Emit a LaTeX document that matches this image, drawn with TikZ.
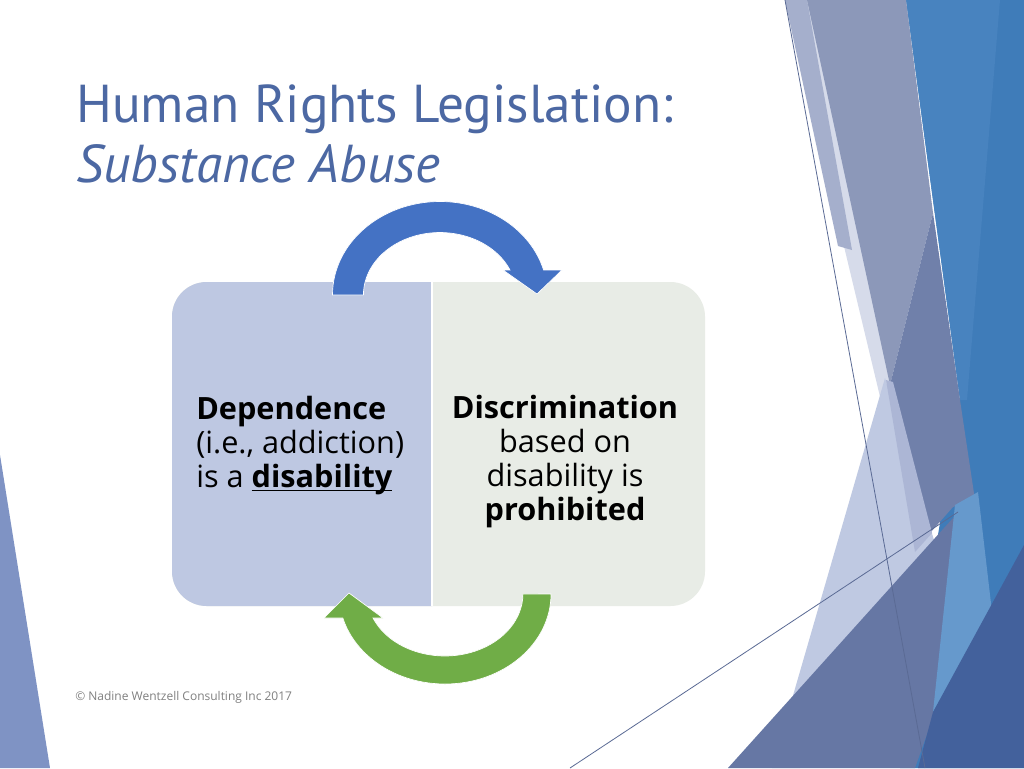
\documentclass[tikz,border=0pt]{standalone}
\usepackage{fontspec}
\setmainfont{Open Sans}
\newfontfamily\titlefont{PT Sans}
\usetikzlibrary{positioning}
\newcommand{\ulword}[1]{\setbox0\hbox{#1}\rlap{\rule[-2.6pt]{\wd0}{1.3pt}}#1}
\definecolor{titleblue}{RGB}{76,104,163}
\definecolor{panelblue}{RGB}{190,200,226}
\definecolor{panelgrey}{RGB}{232,236,230}
\definecolor{arrowblue}{RGB}{68,114,196}
\definecolor{arrowgreen}{RGB}{112,173,71}
\definecolor{footgrey}{RGB}{128,128,128}
\definecolor{fBlue}{RGB}{63,124,185}
\definecolor{fBlueLight}{RGB}{72,131,191}
\definecolor{fGray}{RGB}{140,152,185}
\definecolor{fLav}{RGB}{165,175,204}
\definecolor{fPale}{RGB}{214,219,234}
\definecolor{fPaleBlue}{RGB}{191,201,226}
\definecolor{fMidPale}{RGB}{172,182,213}
\definecolor{fSlate}{RGB}{112,128,170}
\definecolor{fDarkSlate}{RGB}{102,119,164}
\definecolor{fSky}{RGB}{102,153,204}
\definecolor{fDeep}{RGB}{67,97,156}
\definecolor{fLeft}{RGB}{127,147,196}
\definecolor{fLine}{RGB}{90,106,148}
\tikzset{
    facet/.style = {draw=none},
    facetline/.style = {draw=fLine, line width=0.6pt},
    titletext/.style = {font=\titlefont\fontsize{40}{48}\selectfont, text=titleblue, inner sep=0pt, anchor=base west},
    boxtext/.style = {font=\fontsize{23}{25.5}\selectfont, inner sep=0pt},
    foottext/.style = {font=\fontsize{9}{11}\selectfont, text=footgrey, inner sep=0pt, anchor=west},
    cyclearrow/.style = {draw=white, line width=0.5pt}}

\begin{document}
\begin{tikzpicture}[x=0.75pt, y=-0.75pt]
    \useasboundingbox[fill=white] (0,0) rectangle (1024,768);
    \fill[facet, fBlue] (906,0) -- (1024,0) -- (1024,768) -- (900,768) -- (960,400) -- cycle;
    \fill[facet, fBlueLight] (906,0) -- (1000,0) -- (967,400) -- (960,400) -- cycle;
    \fill[facet, fPale] (785,0) -- (810,0) -- (895,390) -- (882,405) -- cycle;
    \fill[facet, fLav] (785,0) -- (807,0) -- (852,250) -- (838,246) -- cycle;
    \fill[facet, fGray] (807,0) -- (906,0) -- (933,213) -- (890,385) -- cycle;
    \fill[facet, fSlate] (933,213) -- (960,400) -- (975,500) -- (953,507) -- (930,533) -- (890,385) -- cycle;
    \fill[facet, fPaleBlue] (885,378) -- (940,560) -- (800,768) -- (772,768) -- cycle;
    \fill[facet, fMidPale] (886,380) -- (893,382) -- (932,533) -- (915,552) -- cycle;
    \fill[facet, fDarkSlate] (728,768) -- (962,508) -- (935,712) -- (915,768) -- cycle;
    \fill[facet, fSky] (955,505) -- (978,492) -- (992,612) -- (933,712) -- cycle;
    \fill[facet, fDeep] (933,712) -- (1024,545) -- (1024,768) -- (918,768) -- cycle;
    \fill[facet, fLeft] (0,455) -- (0,768) -- (50,768) -- cycle;
    \draw[facetline] (785,0) -- (925,768);
    \draw[facetline] (570,768) -- (958,512);

    \path (76,122) node[titletext] (title1) {Human Rights Legislation:}
        + (0,60) node[titletext] (title2) {\itshape Substance Abuse};

    \fill[panelgrey, rounded corners=26pt] (172,282) rectangle (705,606);
    \begin{scope}
        \clip (172,282) rectangle (432,606);
        \fill[panelblue, rounded corners=26pt] (172,282) rectangle (705,606);
    \end{scope}
    \draw[white, line width=1pt] (432,282) -- (432,606);

    \filldraw[cyclearrow, fill=arrowblue] (332.5,295)
        arc[start angle=180, end angle=344.5, x radius=107.5, y radius=93.5]
        -- (562,270) -- (537,294) -- (503,270) -- (510,270)
        arc[start angle=336.4, end angle=180, x radius=76.5, y radius=62.5] -- cycle;
    \filldraw[cyclearrow, fill=arrowgreen] (551,594)
        arc[start angle=0, end angle=164.5, x radius=106, y radius=90]
        -- (324,618) -- (349,593) -- (383,618) -- (373,618)
        arc[start angle=157.2, end angle=0, x radius=78, y radius=62] -- cycle;

    \path (196,446) node[boxtext, align=left, anchor=west] (dependence)
        {\textbf{Dependence}\\(i.e., addiction)\\is a \ulword{\textbf{disability}}}
        (565,462) node[boxtext, align=center] (discrimination)
        {\textbf{Discrimination}\\based on\\disability is\\\textbf{prohibited}};

    \path (75,697) node[foottext] (footer) {© Nadine Wentzell Consulting Inc 2017};
\end{tikzpicture}
\end{document}
